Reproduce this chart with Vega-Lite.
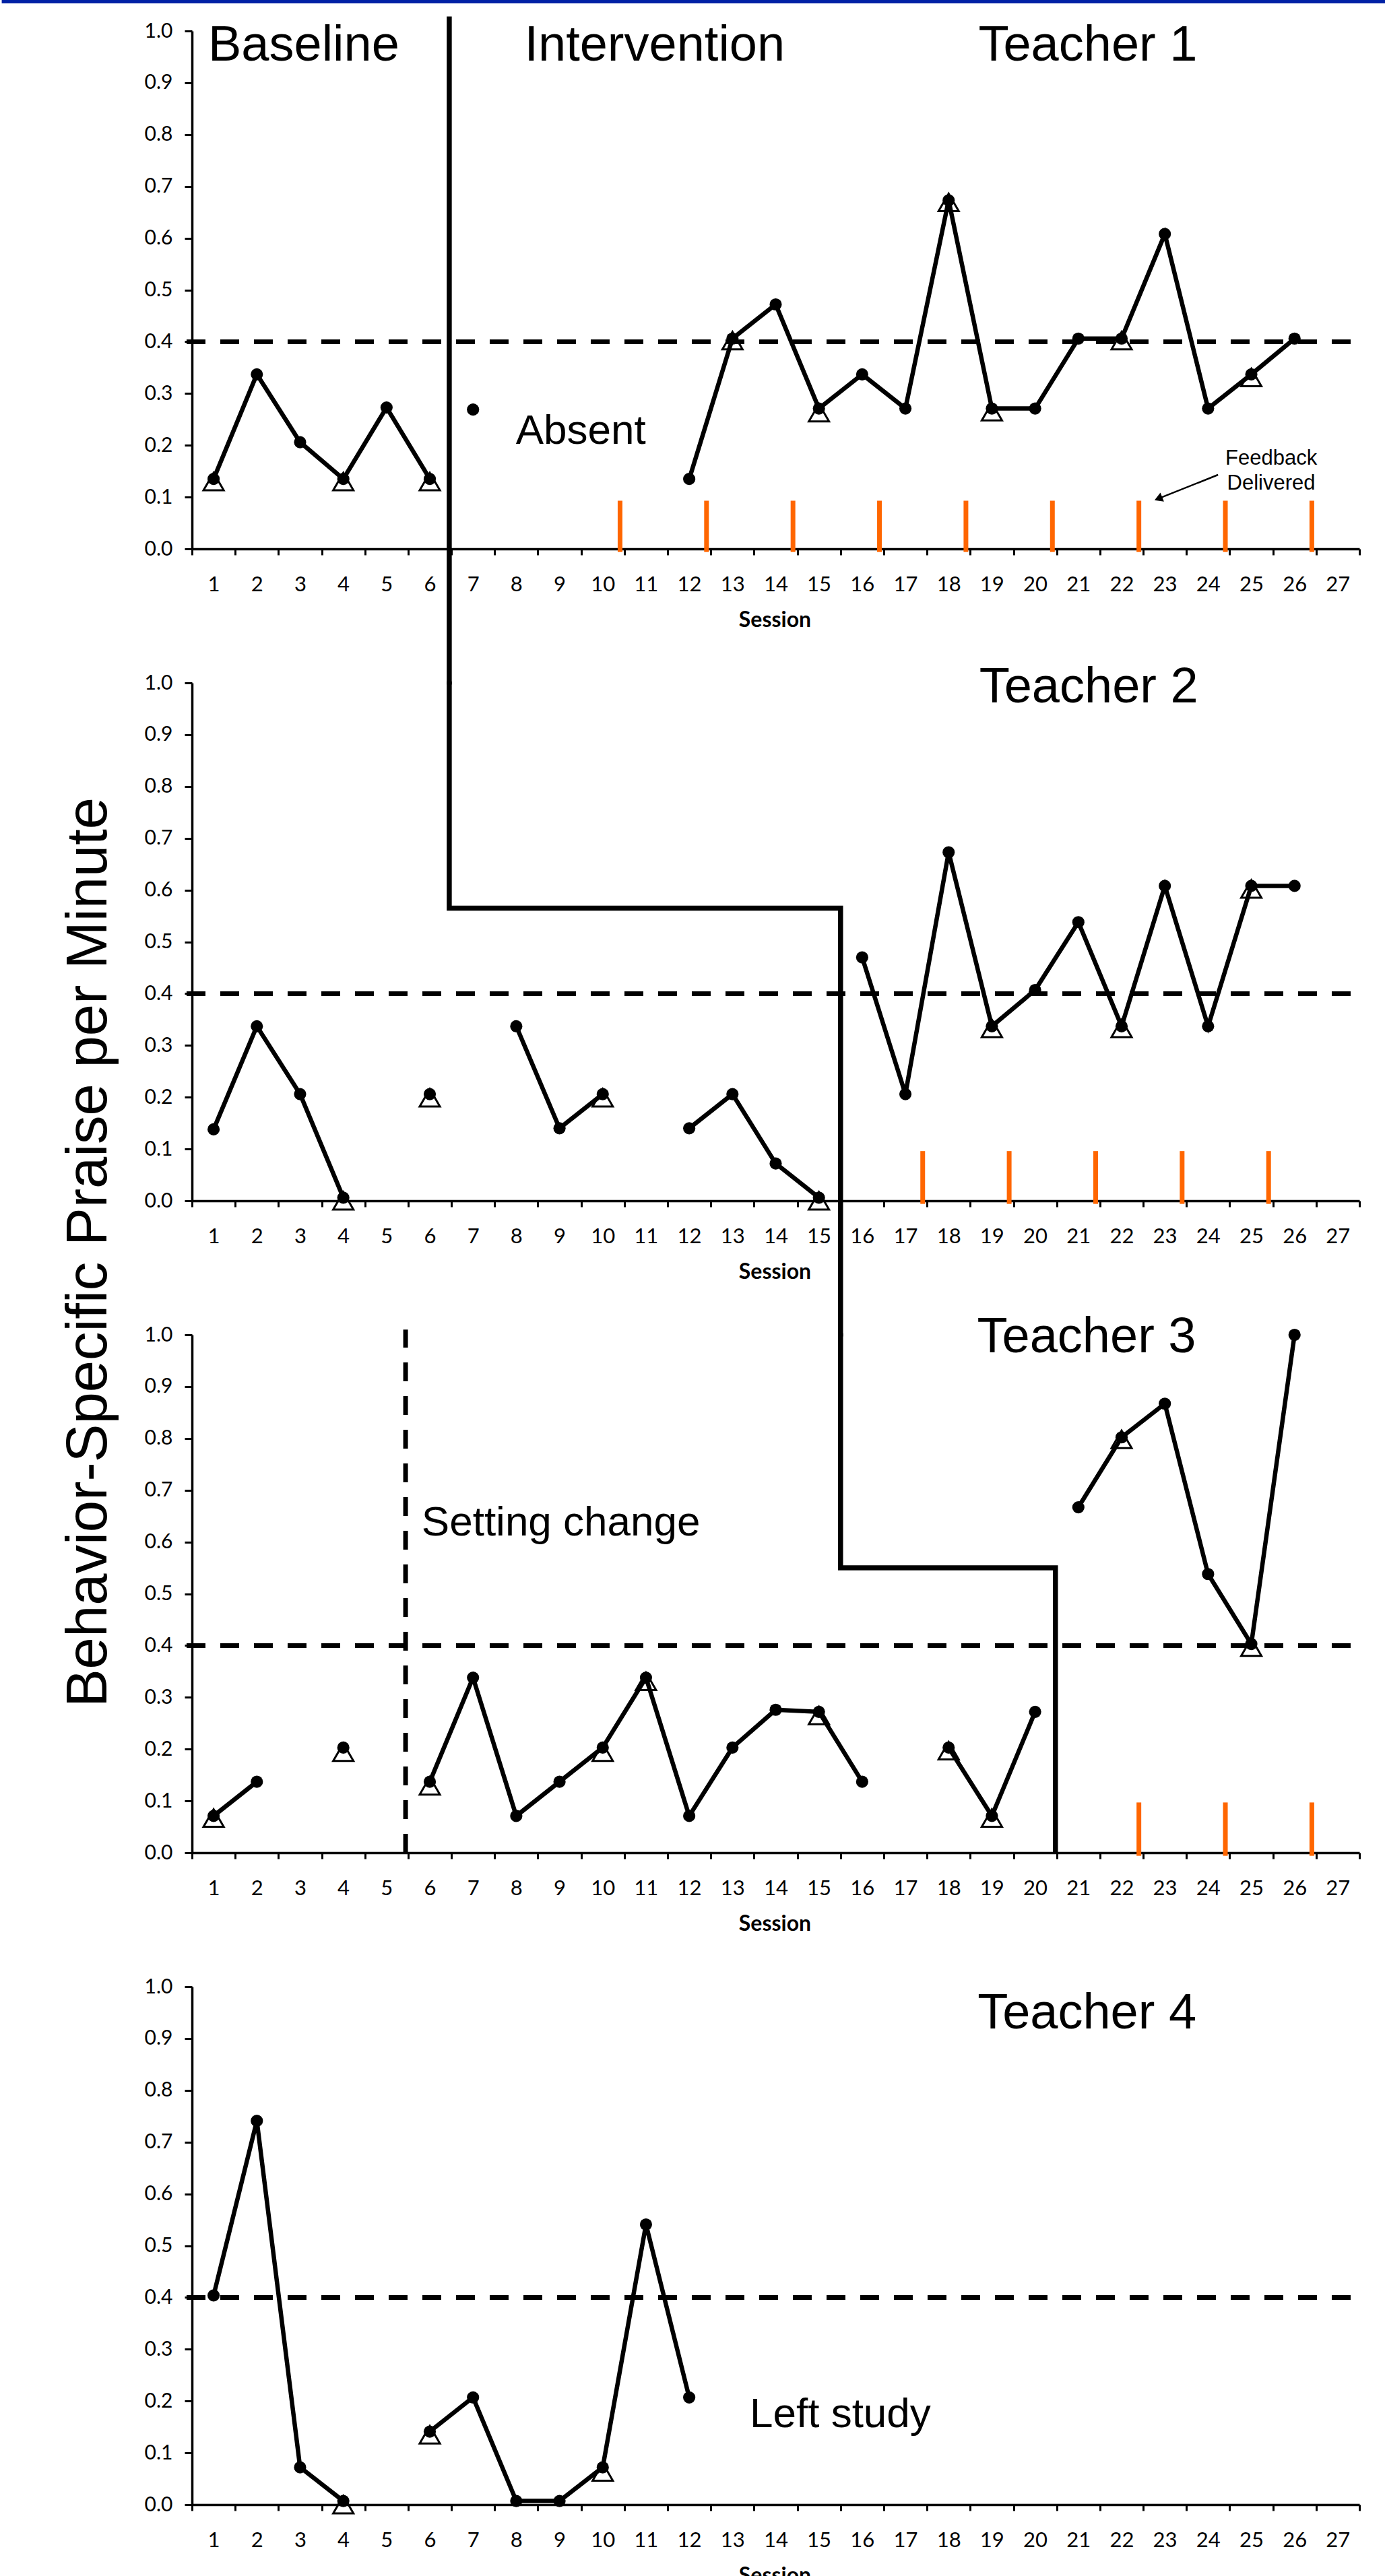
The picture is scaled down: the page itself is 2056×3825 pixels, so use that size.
{
  "$schema": "https://vega.github.io/schema/vega-lite/v6.json",
  "padding": 0,
  "autosize": {"type": "pad"},
  "bounds": "flush",
  "spacing": 199,
  "background": "white",
  "datasets": {
    "obs": [
      {"t": 1, "seg": "a", "session": 1, "value": 0.135},
      {"t": 1, "seg": "a", "session": 2, "value": 0.337},
      {"t": 1, "seg": "a", "session": 3, "value": 0.206},
      {"t": 1, "seg": "a", "session": 4, "value": 0.135},
      {"t": 1, "seg": "a", "session": 5, "value": 0.273},
      {"t": 1, "seg": "a", "session": 6, "value": 0.135},
      {"t": 1, "seg": "b", "session": 7, "value": 0.269},
      {"t": 1, "seg": "c", "session": 12, "value": 0.135},
      {"t": 1, "seg": "c", "session": 13, "value": 0.406},
      {"t": 1, "seg": "c", "session": 14, "value": 0.472},
      {"t": 1, "seg": "c", "session": 15, "value": 0.271},
      {"t": 1, "seg": "c", "session": 16, "value": 0.337},
      {"t": 1, "seg": "c", "session": 17, "value": 0.271},
      {"t": 1, "seg": "c", "session": 18, "value": 0.673},
      {"t": 1, "seg": "c", "session": 19, "value": 0.271},
      {"t": 1, "seg": "c", "session": 20, "value": 0.271},
      {"t": 1, "seg": "c", "session": 21, "value": 0.406},
      {"t": 1, "seg": "c", "session": 22, "value": 0.406},
      {"t": 1, "seg": "c", "session": 23, "value": 0.608},
      {"t": 1, "seg": "c", "session": 24, "value": 0.271},
      {"t": 1, "seg": "c", "session": 25, "value": 0.337},
      {"t": 1, "seg": "c", "session": 26, "value": 0.406},
      {"t": 2, "seg": "a", "session": 1, "value": 0.138},
      {"t": 2, "seg": "a", "session": 2, "value": 0.337},
      {"t": 2, "seg": "a", "session": 3, "value": 0.206},
      {"t": 2, "seg": "a", "session": 4, "value": 0.006},
      {"t": 2, "seg": "b", "session": 6, "value": 0.206},
      {"t": 2, "seg": "c", "session": 8, "value": 0.337},
      {"t": 2, "seg": "c", "session": 9, "value": 0.14},
      {"t": 2, "seg": "c", "session": 10, "value": 0.206},
      {"t": 2, "seg": "d", "session": 12, "value": 0.14},
      {"t": 2, "seg": "d", "session": 13, "value": 0.206},
      {"t": 2, "seg": "d", "session": 14, "value": 0.072},
      {"t": 2, "seg": "d", "session": 15, "value": 0.006},
      {"t": 2, "seg": "e", "session": 16, "value": 0.47},
      {"t": 2, "seg": "e", "session": 17, "value": 0.206},
      {"t": 2, "seg": "e", "session": 18, "value": 0.673},
      {"t": 2, "seg": "e", "session": 19, "value": 0.337},
      {"t": 2, "seg": "e", "session": 20, "value": 0.407},
      {"t": 2, "seg": "e", "session": 21, "value": 0.538},
      {"t": 2, "seg": "e", "session": 22, "value": 0.337},
      {"t": 2, "seg": "e", "session": 23, "value": 0.608},
      {"t": 2, "seg": "e", "session": 24, "value": 0.337},
      {"t": 2, "seg": "e", "session": 25, "value": 0.608},
      {"t": 2, "seg": "e", "session": 26, "value": 0.608},
      {"t": 3, "seg": "a", "session": 1, "value": 0.071},
      {"t": 3, "seg": "a", "session": 2, "value": 0.137},
      {"t": 3, "seg": "b", "session": 4, "value": 0.203},
      {"t": 3, "seg": "c", "session": 6, "value": 0.137},
      {"t": 3, "seg": "c", "session": 7, "value": 0.338},
      {"t": 3, "seg": "c", "session": 8, "value": 0.071},
      {"t": 3, "seg": "c", "session": 9, "value": 0.137},
      {"t": 3, "seg": "c", "session": 10, "value": 0.203},
      {"t": 3, "seg": "c", "session": 11, "value": 0.338},
      {"t": 3, "seg": "c", "session": 12, "value": 0.071},
      {"t": 3, "seg": "c", "session": 13, "value": 0.203},
      {"t": 3, "seg": "c", "session": 14, "value": 0.276},
      {"t": 3, "seg": "c", "session": 15, "value": 0.272},
      {"t": 3, "seg": "c", "session": 16, "value": 0.137},
      {"t": 3, "seg": "d", "session": 18, "value": 0.203},
      {"t": 3, "seg": "d", "session": 19, "value": 0.071},
      {"t": 3, "seg": "d", "session": 20, "value": 0.272},
      {"t": 3, "seg": "e", "session": 21, "value": 0.667},
      {"t": 3, "seg": "e", "session": 22, "value": 0.802},
      {"t": 3, "seg": "e", "session": 23, "value": 0.867},
      {"t": 3, "seg": "e", "session": 24, "value": 0.538},
      {"t": 3, "seg": "e", "session": 25, "value": 0.403},
      {"t": 3, "seg": "e", "session": 26, "value": 1.0},
      {"t": 4, "seg": "a", "session": 1, "value": 0.404},
      {"t": 4, "seg": "a", "session": 2, "value": 0.741},
      {"t": 4, "seg": "a", "session": 3, "value": 0.072},
      {"t": 4, "seg": "a", "session": 4, "value": 0.007},
      {"t": 4, "seg": "b", "session": 6, "value": 0.141},
      {"t": 4, "seg": "b", "session": 7, "value": 0.207},
      {"t": 4, "seg": "b", "session": 8, "value": 0.007},
      {"t": 4, "seg": "b", "session": 9, "value": 0.007},
      {"t": 4, "seg": "b", "session": 10, "value": 0.072},
      {"t": 4, "seg": "b", "session": 11, "value": 0.541},
      {"t": 4, "seg": "b", "session": 12, "value": 0.207}
    ],
    "ioa": [
      {"t": 1, "session": 1, "value": 0.13},
      {"t": 1, "session": 4, "value": 0.13},
      {"t": 1, "session": 6, "value": 0.13},
      {"t": 1, "session": 13, "value": 0.402},
      {"t": 1, "session": 15, "value": 0.263},
      {"t": 1, "session": 18, "value": 0.669},
      {"t": 1, "session": 19, "value": 0.265},
      {"t": 1, "session": 22, "value": 0.402},
      {"t": 1, "session": 25, "value": 0.331},
      {"t": 2, "session": 4, "value": 0.0},
      {"t": 2, "session": 6, "value": 0.199},
      {"t": 2, "session": 10, "value": 0.199},
      {"t": 2, "session": 15, "value": 0.0},
      {"t": 2, "session": 19, "value": 0.333},
      {"t": 2, "session": 22, "value": 0.333},
      {"t": 2, "session": 25, "value": 0.602},
      {"t": 3, "session": 1, "value": 0.067},
      {"t": 3, "session": 4, "value": 0.194},
      {"t": 3, "session": 6, "value": 0.129},
      {"t": 3, "session": 10, "value": 0.194},
      {"t": 3, "session": 11, "value": 0.331},
      {"t": 3, "session": 15, "value": 0.265},
      {"t": 3, "session": 18, "value": 0.197},
      {"t": 3, "session": 19, "value": 0.067},
      {"t": 3, "session": 22, "value": 0.798},
      {"t": 3, "session": 25, "value": 0.397},
      {"t": 4, "session": 4, "value": 0.0},
      {"t": 4, "session": 6, "value": 0.135},
      {"t": 4, "session": 10, "value": 0.063}
    ],
    "fb": [
      {"t": 1, "session": 10.4, "value": -0.006, "value2": 0.093},
      {"t": 1, "session": 12.4, "value": -0.006, "value2": 0.093},
      {"t": 1, "session": 14.4, "value": -0.006, "value2": 0.093},
      {"t": 1, "session": 16.4, "value": -0.006, "value2": 0.093},
      {"t": 1, "session": 18.4, "value": -0.006, "value2": 0.093},
      {"t": 1, "session": 20.4, "value": -0.006, "value2": 0.093},
      {"t": 1, "session": 22.4, "value": -0.006, "value2": 0.093},
      {"t": 1, "session": 24.4, "value": -0.006, "value2": 0.093},
      {"t": 1, "session": 26.4, "value": -0.006, "value2": 0.093},
      {"t": 2, "session": 17.4, "value": -0.006, "value2": 0.096},
      {"t": 2, "session": 19.4, "value": -0.006, "value2": 0.096},
      {"t": 2, "session": 21.4, "value": -0.006, "value2": 0.096},
      {"t": 2, "session": 23.4, "value": -0.006, "value2": 0.096},
      {"t": 2, "session": 25.4, "value": -0.006, "value2": 0.096},
      {"t": 3, "session": 22.4, "value": -0.006, "value2": 0.097},
      {"t": 3, "session": 24.4, "value": -0.006, "value2": 0.097},
      {"t": 3, "session": 26.4, "value": -0.006, "value2": 0.097}
    ],
    "phase": [
      {"t": 1, "ord": 1, "session": 6.45, "value": 1.028},
      {"t": 1, "ord": 2, "session": 6.45, "value": -0.262},
      {"t": 2, "ord": 1, "session": 6.45, "value": 1.003},
      {"t": 2, "ord": 2, "session": 6.45, "value": 0.565},
      {"t": 2, "ord": 3, "session": 15.5, "value": 0.565},
      {"t": 2, "ord": 4, "session": 15.5, "value": -0.262},
      {"t": 3, "ord": 1, "session": 15.5, "value": 1.003},
      {"t": 3, "ord": 2, "session": 15.5, "value": 0.55},
      {"t": 3, "ord": 3, "session": 20.47, "value": 0.55},
      {"t": 3, "ord": 4, "session": 20.47, "value": 0.0}
    ],
    "ref": [
      {"t": 1, "session": 0.375, "session2": 27.5, "value": 0.4},
      {"t": 2, "session": 0.375, "session2": 27.5, "value": 0.4},
      {"t": 3, "session": 0.375, "session2": 27.5, "value": 0.4},
      {"t": 4, "session": 0.375, "session2": 27.5, "value": 0.4}
    ],
    "setting": [
      {"t": 3, "session": 5.44, "value": 0.0, "value2": 1.01}
    ],
    "labels": [
      {"t": 1, "role": "big", "label": "Intervention", "session": 11.2, "value": 0.943},
      {"t": 1, "role": "big", "label": "Teacher 1", "session": 21.22, "value": 0.943},
      {"t": 1, "role": "bigleft", "label": "Baseline", "session": 0.874, "value": 0.943},
      {"t": 1, "role": "note", "label": "Absent", "session": 7.99, "value": 0.203},
      {"t": 1, "role": "small", "label": "Feedback", "session": 25.46, "value": 0.163},
      {"t": 1, "role": "small", "label": "Delivered", "session": 25.46, "value": 0.115},
      {"t": 2, "role": "big", "label": "Teacher 2", "session": 21.24, "value": 0.962},
      {"t": 3, "role": "big", "label": "Teacher 3", "session": 21.19, "value": 0.966},
      {"t": 3, "role": "note", "label": "Setting change", "session": 5.81, "value": 0.613},
      {"t": 4, "role": "big", "label": "Teacher 4", "session": 21.2, "value": 0.919},
      {"t": 4, "role": "note", "label": "Left study", "session": 13.4, "value": 0.149}
    ],
    "arrow": [
      {"t": 1, "session": 24.23, "value": 0.143, "session2": 22.85, "value2": 0.097}
    ],
    "arrowhead": [
      {"t": 1, "session": 22.85, "value": 0.097}
    ],
    "band": [
      {"t": 1, "session": -3.9, "session2": 28.2, "value": 1.0565}
    ]
  },
  "vconcat": [
    {
      "width": 1733,
      "height": 769,
      "encoding": {
        "x": {"field": "session", "type": "quantitative", "scale": {"domain": [0.5, 27.5], "nice": false, "zero": false},
          "axis": {"values": [0.5,1.5,2.5,3.5,4.5,5.5,6.5,7.5,8.5,9.5,10.5,11.5,12.5,13.5,14.5,15.5,16.5,17.5,18.5,19.5,20.5,21.5,22.5,23.5,24.5,25.5,26.5,27.5],
            "labelExpr": "datum.value < 27 ? format(datum.value + 0.5, 'd') : ''", "title": "Session", "titleX": 865, "titleY": 115, "titleAlign": "center", "titleBaseline": "alphabetic"}},
        "y": {"field": "value", "type": "quantitative", "scale": {"domain": [0, 1], "nice": false, "zero": false},
          "axis": {"values": [0,0.1,0.2,0.3,0.4,0.5,0.6,0.7,0.8,0.9,1.0], "format": ".1f", "title": null}}
      },
      "layer": [
        {"data": {"name": "band"}, "mark": {"type": "rule", "color": "#0021A5", "strokeWidth": 5, "strokeCap": "butt"}, "encoding": {"x2": {"field": "session2"}}},
        {"data": {"name": "ref"}, "transform": [{"filter": "datum.t == 1"}], "mark": {"type": "rule", "color": "black", "strokeWidth": 7, "strokeDash": [28, 22], "strokeCap": "butt"}, "encoding": {"x2": {"field": "session2"}}},
        {"data": {"name": "fb"}, "transform": [{"filter": "datum.t == 1"}], "mark": {"type": "rule", "color": "#FF6600", "strokeWidth": 7, "strokeCap": "butt"}, "encoding": {"y2": {"field": "value2"}}},
        {"data": {"name": "phase"}, "transform": [{"filter": "datum.t == 1"}], "mark": {"type": "line", "color": "black", "strokeWidth": 7.5, "strokeCap": "butt", "strokeJoin": "miter"}, "encoding": {"order": {"field": "ord", "type": "quantitative"}}},
        {"data": {"name": "ioa"}, "transform": [{"filter": "datum.t == 1"}], "mark": {"type": "point", "shape": "triangle-up", "filled": false, "stroke": "black", "strokeWidth": 3, "size": 900, "opacity": 1}},
        {"data": {"name": "obs"}, "transform": [{"filter": "datum.t == 1"}], "mark": {"type": "line", "color": "black", "strokeWidth": 6.5}, "encoding": {"detail": {"field": "seg"}}},
        {"data": {"name": "obs"}, "transform": [{"filter": "datum.t == 1"}], "mark": {"type": "point", "shape": "circle", "filled": true, "color": "black", "size": 330, "opacity": 1}},
        {"data": {"name": "labels"}, "transform": [{"filter": "datum.t == 1 && datum.role == 'big'"}], "mark": {"type": "text", "font": "Liberation Sans", "fontSize": 74, "align": "center", "baseline": "alphabetic", "color": "black"}, "encoding": {"text": {"field": "label"}}},
        {"data": {"name": "labels"}, "transform": [{"filter": "datum.t == 1 && datum.role == 'bigleft'"}], "mark": {"type": "text", "font": "Liberation Sans", "fontSize": 74, "align": "left", "baseline": "alphabetic", "color": "black"}, "encoding": {"text": {"field": "label"}}},
        {"data": {"name": "labels"}, "transform": [{"filter": "datum.t == 1 && datum.role == 'note'"}], "mark": {"type": "text", "font": "Liberation Sans", "fontSize": 62, "align": "left", "baseline": "alphabetic", "color": "black"}, "encoding": {"text": {"field": "label"}}},
        {"data": {"name": "labels"}, "transform": [{"filter": "datum.t == 1 && datum.role == 'small'"}], "mark": {"type": "text", "font": "Liberation Sans", "fontSize": 31, "align": "center", "baseline": "alphabetic", "color": "black"}, "encoding": {"text": {"field": "label"}}},
        {"data": {"name": "arrow"}, "mark": {"type": "rule", "color": "black", "strokeWidth": 2.5}, "encoding": {"x2": {"field": "session2"}, "y2": {"field": "value2"}}},
        {"data": {"name": "arrowhead"}, "mark": {"type": "point", "shape": "triangle-up", "filled": true, "color": "black", "size": 200, "angle": 248, "opacity": 1}}
      ]
    },
    {
      "width": 1733,
      "height": 769,
      "encoding": {
        "x": {"field": "session", "type": "quantitative", "scale": {"domain": [0.5, 27.5], "nice": false, "zero": false},
          "axis": {"values": [0.5,1.5,2.5,3.5,4.5,5.5,6.5,7.5,8.5,9.5,10.5,11.5,12.5,13.5,14.5,15.5,16.5,17.5,18.5,19.5,20.5,21.5,22.5,23.5,24.5,25.5,26.5,27.5],
            "labelExpr": "datum.value < 27 ? format(datum.value + 0.5, 'd') : ''", "title": "Session", "titleX": 865, "titleY": 115, "titleAlign": "center", "titleBaseline": "alphabetic"}},
        "y": {"field": "value", "type": "quantitative", "scale": {"domain": [0, 1], "nice": false, "zero": false},
          "axis": {"values": [0,0.1,0.2,0.3,0.4,0.5,0.6,0.7,0.8,0.9,1.0], "format": ".1f",
            "title": "Behavior-Specific Praise per Minute", "titleFont": "Liberation Sans", "titleFontSize": 85, "titleFontWeight": "normal", "titleAngle": 270, "titleX": -128, "titleY": 845, "titleAlign": "center", "titleBaseline": "alphabetic", "titleColor": "black"}}
      },
      "layer": [
        {"data": {"name": "ref"}, "transform": [{"filter": "datum.t == 2"}], "mark": {"type": "rule", "color": "black", "strokeWidth": 7, "strokeDash": [28, 22], "strokeCap": "butt"}, "encoding": {"x2": {"field": "session2"}}},
        {"data": {"name": "fb"}, "transform": [{"filter": "datum.t == 2"}], "mark": {"type": "rule", "color": "#FF6600", "strokeWidth": 7, "strokeCap": "butt"}, "encoding": {"y2": {"field": "value2"}}},
        {"data": {"name": "phase"}, "transform": [{"filter": "datum.t == 2"}], "mark": {"type": "line", "color": "black", "strokeWidth": 7.5, "strokeCap": "butt", "strokeJoin": "miter"}, "encoding": {"order": {"field": "ord", "type": "quantitative"}}},
        {"data": {"name": "ioa"}, "transform": [{"filter": "datum.t == 2"}], "mark": {"type": "point", "shape": "triangle-up", "filled": false, "stroke": "black", "strokeWidth": 3, "size": 900, "opacity": 1}},
        {"data": {"name": "obs"}, "transform": [{"filter": "datum.t == 2"}], "mark": {"type": "line", "color": "black", "strokeWidth": 6.5}, "encoding": {"detail": {"field": "seg"}}},
        {"data": {"name": "obs"}, "transform": [{"filter": "datum.t == 2"}], "mark": {"type": "point", "shape": "circle", "filled": true, "color": "black", "size": 330, "opacity": 1}},
        {"data": {"name": "labels"}, "transform": [{"filter": "datum.t == 2 && datum.role == 'big'"}], "mark": {"type": "text", "font": "Liberation Sans", "fontSize": 74, "align": "center", "baseline": "alphabetic", "color": "black"}, "encoding": {"text": {"field": "label"}}}
      ]
    },
    {
      "width": 1733,
      "height": 769,
      "encoding": {
        "x": {"field": "session", "type": "quantitative", "scale": {"domain": [0.5, 27.5], "nice": false, "zero": false},
          "axis": {"values": [0.5,1.5,2.5,3.5,4.5,5.5,6.5,7.5,8.5,9.5,10.5,11.5,12.5,13.5,14.5,15.5,16.5,17.5,18.5,19.5,20.5,21.5,22.5,23.5,24.5,25.5,26.5,27.5],
            "labelExpr": "datum.value < 27 ? format(datum.value + 0.5, 'd') : ''", "title": "Session", "titleX": 865, "titleY": 115, "titleAlign": "center", "titleBaseline": "alphabetic"}},
        "y": {"field": "value", "type": "quantitative", "scale": {"domain": [0, 1], "nice": false, "zero": false},
          "axis": {"values": [0,0.1,0.2,0.3,0.4,0.5,0.6,0.7,0.8,0.9,1.0], "format": ".1f", "title": null}}
      },
      "layer": [
        {"data": {"name": "ref"}, "transform": [{"filter": "datum.t == 3"}], "mark": {"type": "rule", "color": "black", "strokeWidth": 7, "strokeDash": [28, 22], "strokeCap": "butt"}, "encoding": {"x2": {"field": "session2"}}},
        {"data": {"name": "setting"}, "mark": {"type": "rule", "color": "black", "strokeWidth": 7, "strokeDash": [28, 22], "strokeCap": "butt"}, "encoding": {"y2": {"field": "value2"}}},
        {"data": {"name": "fb"}, "transform": [{"filter": "datum.t == 3"}], "mark": {"type": "rule", "color": "#FF6600", "strokeWidth": 7, "strokeCap": "butt"}, "encoding": {"y2": {"field": "value2"}}},
        {"data": {"name": "phase"}, "transform": [{"filter": "datum.t == 3"}], "mark": {"type": "line", "color": "black", "strokeWidth": 7.5, "strokeCap": "butt", "strokeJoin": "miter"}, "encoding": {"order": {"field": "ord", "type": "quantitative"}}},
        {"data": {"name": "ioa"}, "transform": [{"filter": "datum.t == 3"}], "mark": {"type": "point", "shape": "triangle-up", "filled": false, "stroke": "black", "strokeWidth": 3, "size": 900, "opacity": 1}},
        {"data": {"name": "obs"}, "transform": [{"filter": "datum.t == 3"}], "mark": {"type": "line", "color": "black", "strokeWidth": 6.5}, "encoding": {"detail": {"field": "seg"}}},
        {"data": {"name": "obs"}, "transform": [{"filter": "datum.t == 3"}], "mark": {"type": "point", "shape": "circle", "filled": true, "color": "black", "size": 330, "opacity": 1}},
        {"data": {"name": "labels"}, "transform": [{"filter": "datum.t == 3 && datum.role == 'big'"}], "mark": {"type": "text", "font": "Liberation Sans", "fontSize": 74, "align": "center", "baseline": "alphabetic", "color": "black"}, "encoding": {"text": {"field": "label"}}},
        {"data": {"name": "labels"}, "transform": [{"filter": "datum.t == 3 && datum.role == 'note'"}], "mark": {"type": "text", "font": "Liberation Sans", "fontSize": 62, "align": "left", "baseline": "alphabetic", "color": "black"}, "encoding": {"text": {"field": "label"}}}
      ]
    },
    {
      "width": 1733,
      "height": 769,
      "encoding": {
        "x": {"field": "session", "type": "quantitative", "scale": {"domain": [0.5, 27.5], "nice": false, "zero": false},
          "axis": {"values": [0.5,1.5,2.5,3.5,4.5,5.5,6.5,7.5,8.5,9.5,10.5,11.5,12.5,13.5,14.5,15.5,16.5,17.5,18.5,19.5,20.5,21.5,22.5,23.5,24.5,25.5,26.5,27.5],
            "labelExpr": "datum.value < 27 ? format(datum.value + 0.5, 'd') : ''", "title": "Session", "titleX": 865, "titleY": 115, "titleAlign": "center", "titleBaseline": "alphabetic"}},
        "y": {"field": "value", "type": "quantitative", "scale": {"domain": [0, 1], "nice": false, "zero": false},
          "axis": {"values": [0,0.1,0.2,0.3,0.4,0.5,0.6,0.7,0.8,0.9,1.0], "format": ".1f", "title": null}}
      },
      "layer": [
        {"data": {"name": "ref"}, "transform": [{"filter": "datum.t == 4"}], "mark": {"type": "rule", "color": "black", "strokeWidth": 7, "strokeDash": [28, 22], "strokeCap": "butt"}, "encoding": {"x2": {"field": "session2"}}},
        {"data": {"name": "ioa"}, "transform": [{"filter": "datum.t == 4"}], "mark": {"type": "point", "shape": "triangle-up", "filled": false, "stroke": "black", "strokeWidth": 3, "size": 900, "opacity": 1}},
        {"data": {"name": "obs"}, "transform": [{"filter": "datum.t == 4"}], "mark": {"type": "line", "color": "black", "strokeWidth": 6.5}, "encoding": {"detail": {"field": "seg"}}},
        {"data": {"name": "obs"}, "transform": [{"filter": "datum.t == 4"}], "mark": {"type": "point", "shape": "circle", "filled": true, "color": "black", "size": 330, "opacity": 1}},
        {"data": {"name": "labels"}, "transform": [{"filter": "datum.t == 4 && datum.role == 'big'"}], "mark": {"type": "text", "font": "Liberation Sans", "fontSize": 74, "align": "center", "baseline": "alphabetic", "color": "black"}, "encoding": {"text": {"field": "label"}}},
        {"data": {"name": "labels"}, "transform": [{"filter": "datum.t == 4 && datum.role == 'note'"}], "mark": {"type": "text", "font": "Liberation Sans", "fontSize": 62, "align": "left", "baseline": "alphabetic", "color": "black"}, "encoding": {"text": {"field": "label"}}}
      ]
    }
  ],
  "config": {
    "view": {"stroke": null},
    "axis": {"domainColor": "black", "domainWidth": 3.5, "tickColor": "black", "tickWidth": 3, "labelColor": "black", "labelFont": "Lato", "titleColor": "black", "grid": false, "labelFlush": false, "labelOverlap": false, "labelBound": false},
    "axisX": {"tickSize": 9, "labelFontSize": 31, "labelBaseline": "alphabetic", "labelPadding": 53, "labelOffset": 32, "labelAlign": "center", "titleFont": "Lato", "titleFontSize": 32, "titleFontWeight": "bold"},
    "axisY": {"tickSize": 11, "labelFontSize": 30, "labelPadding": 18, "labelBaseline": "middle", "labelAlign": "right"}
  }
}
